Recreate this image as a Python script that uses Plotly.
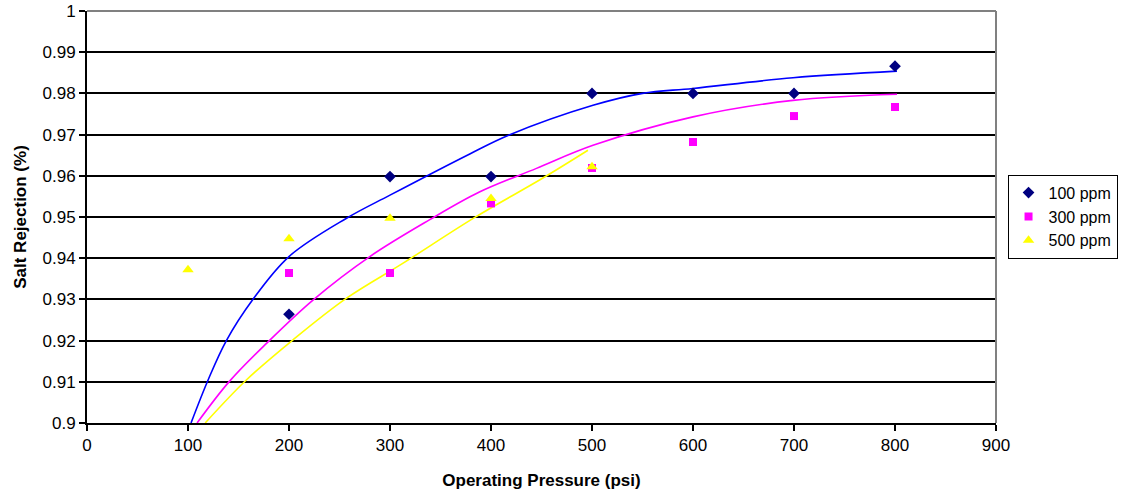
import plotly.graph_objects as go

# Measured salt rejection at each operating pressure
pressure = [100, 200, 300, 400, 500, 600, 700, 800]
pressure_500 = [100, 200, 300, 400, 500]

rej_100 = [None, 0.9264, 0.9598, 0.9598, 0.9800, 0.9800, 0.9800, 0.9866]
rej_300 = [None, 0.9364, 0.9364, 0.9533, 0.9619, 0.9682, 0.9745, 0.9767]
rej_500 = [0.9372, 0.9447, 0.9497, 0.9545, 0.9622]

# Trend curves (pressure, rejection) sampled along each fitted line
trend_100_x = [103, 120, 138, 164, 200, 257, 300, 379, 418, 501, 550, 600, 699, 802]
trend_100_y = [0.9000, 0.9105, 0.9200, 0.9299, 0.9404, 0.9497, 0.9553, 0.9653, 0.9699,
               0.9771, 0.9800, 0.9812, 0.9838, 0.9854]
trend_300_x = [109, 141, 178, 224, 280, 339, 388, 445, 501, 600, 699, 802]
trend_300_y = [0.9000, 0.9101, 0.9194, 0.9299, 0.9404, 0.9493, 0.9560, 0.9618, 0.9674,
               0.9743, 0.9783, 0.9798]
trend_500_x = [117, 158, 204, 257, 313, 384, 451, 496]
trend_500_y = [0.9000, 0.9105, 0.9202, 0.9303, 0.9388, 0.9499, 0.9594, 0.9662]

y_ticks = [0.90, 0.91, 0.92, 0.93, 0.94, 0.95, 0.96, 0.97, 0.98, 0.99, 1.00]
y_tick_text = ["0.9", "0.91", "0.92", "0.93", "0.94", "0.95", "0.96", "0.97", "0.98", "0.99", "1"]
x_ticks = [0, 100, 200, 300, 400, 500, 600, 700, 800, 900]

FONT = "Liberation Sans, Arial, sans-serif"
FS = 17

fig = go.Figure()

fig.add_trace(go.Scatter(x=trend_100_x, y=trend_100_y, mode="lines", line_shape="spline",
                         line=dict(color="#0000FF", width=1.6), showlegend=False, hoverinfo="skip"))
fig.add_trace(go.Scatter(x=trend_300_x, y=trend_300_y, mode="lines", line_shape="spline",
                         line=dict(color="#FF00FF", width=1.6), showlegend=False, hoverinfo="skip"))
fig.add_trace(go.Scatter(x=trend_500_x, y=trend_500_y, mode="lines", line_shape="spline",
                         line=dict(color="#FFFF00", width=1.6), showlegend=False, hoverinfo="skip"))

fig.add_trace(go.Scatter(x=pressure, y=rej_100, mode="markers", name="100 ppm",
                         marker=dict(symbol="diamond", size=9, color="#000080")))
fig.add_trace(go.Scatter(x=pressure, y=rej_300, mode="markers", name="300 ppm",
                         marker=dict(symbol="square", size=8, color="#FF00FF")))
fig.add_trace(go.Scatter(x=pressure_500, y=rej_500, mode="markers", name="500 ppm",
                         marker=dict(symbol="triangle-up", size=10, color="#FFFF00")))

fig.update_xaxes(
    range=[0, 900], tickvals=x_ticks, showgrid=False, zeroline=False,
    showline=True, linecolor="black", linewidth=2,
    ticks="outside", ticklen=6, tickwidth=2, tickcolor="black",
    tickfont=dict(family=FONT, size=FS, color="black"),
    title=dict(text="<b>Operating Pressure (psi)</b>", font=dict(family=FONT, size=FS, color="black"),
               standoff=20),
)
fig.update_yaxes(
    range=[0.9, 1.0], tickvals=y_ticks, ticktext=y_tick_text,
    showgrid=True, gridcolor="black", gridwidth=2, zeroline=False,
    showline=True, linecolor="black", linewidth=2,
    ticks="outside", ticklen=6, tickwidth=2, tickcolor="black",
    tickfont=dict(family=FONT, size=FS, color="black"),
    title=dict(text="<b>Salt Rejection (%)</b>", font=dict(family=FONT, size=FS, color="black"),
               standoff=12),
)

# grey frame on the top and right of the plotting area
fig.add_shape(type="line", xref="paper", yref="paper", x0=0, x1=1, y0=1, y1=1,
              line=dict(color="#808080", width=2))
fig.add_shape(type="line", xref="paper", yref="paper", x0=1, x1=1, y0=0, y1=1,
              line=dict(color="#808080", width=2))

fig.update_layout(
    width=1127, height=497,
    margin=dict(l=87, r=131, t=11, b=74, autoexpand=False),
    paper_bgcolor="white", plot_bgcolor="white",
    font=dict(family=FONT, size=FS, color="black"),
    legend=dict(xref="container", yref="container", x=0.894, y=0.564,
                xanchor="left", yanchor="middle",
                bordercolor="black", borderwidth=1, bgcolor="white",
                font=dict(family=FONT, size=16, color="black"),
                itemwidth=30, tracegroupgap=0),
)

fig.write_html("out.html")
